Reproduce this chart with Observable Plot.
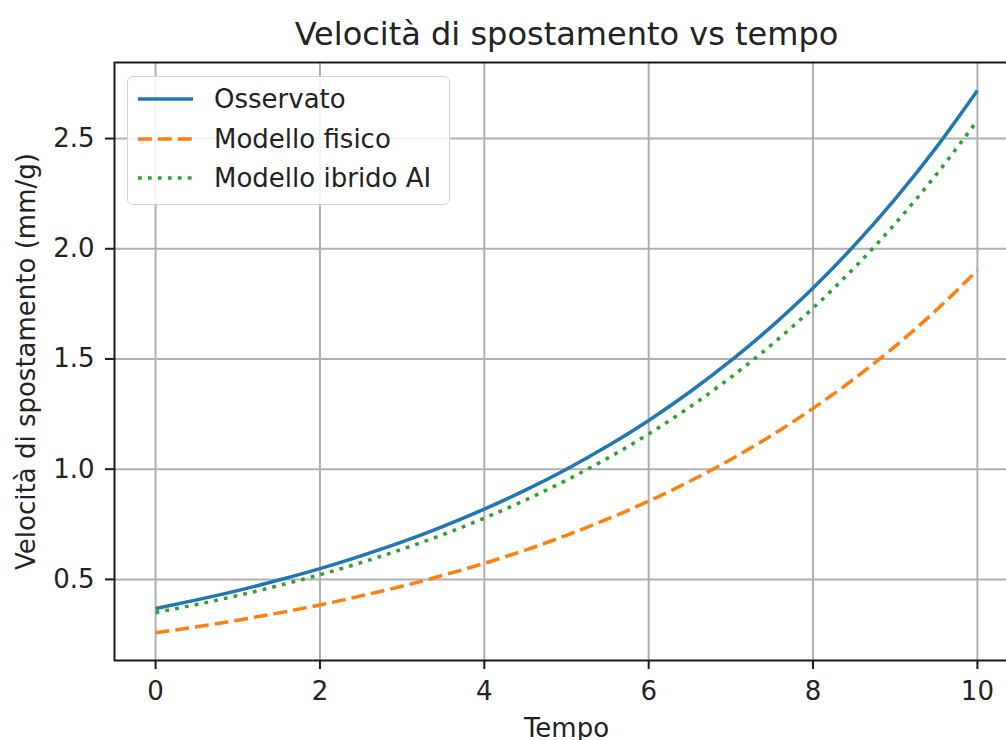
<!DOCTYPE html>
<html>
<head>
<meta charset="utf-8">
<script src="https://cdn.jsdelivr.net/npm/d3@7"></script>
<script src="https://cdn.jsdelivr.net/npm/@observablehq/plot@0.6"></script>
<style>
  html, body { margin: 0; padding: 0; background: white; }
  #wrap { position: relative; width: 1006px; height: 740px; overflow: hidden; font-family: "DejaVu Sans", sans-serif; }
  #legend { position: absolute; left: 127px; top: 76px; width: 321px; height: 127px;
    border: 1.6px solid #d4d4d4; border-radius: 6px; background: rgba(255,255,255,0.85); }
  .row { position: absolute; left: 0; height: 34px; width: 320px; }
  .row span { position: absolute; left: 86px; top: 0; line-height: 34px; font-size: 26px; color: #222; white-space: nowrap; }
  .row svg { position: absolute; left: 9px; top: 0; }
</style>
</head>
<body>
<div id="wrap"></div>
<script>
const title = "Velocità di spostamento vs tempo";
const xLabel = "Tempo";
const yLabel = "Velocità di spostamento (mm/g)";
const seriesNames = ["Osservato", "Modello fisico", "Modello ibrido AI"];
const seriesColors = ["#1f77b4", "#ff7f0e", "#2ca02c"];
const seriesDash = [null, "13.9,6", "3.75,6.2"];
const xTicks = [0, 2, 4, 6, 8, 10];
const yTicks = [0.5, 1.0, 1.5, 2.0, 2.5];

const tempo = [0, 0.5, 1, 1.5, 2, 2.5, 3, 3.5, 4, 4.5, 5, 5.5, 6, 6.5, 7, 7.5, 8, 8.5, 9, 9.5, 10];
const osservato = [0.368, 0.407, 0.449, 0.497, 0.549, 0.607, 0.670, 0.741, 0.819, 0.905, 1.000, 1.105, 1.221, 1.350, 1.492, 1.649, 1.822, 2.014, 2.226, 2.460, 2.718];
const modelloFisico = [0.258, 0.285, 0.315, 0.348, 0.384, 0.425, 0.469, 0.519, 0.573, 0.633, 0.700, 0.774, 0.855, 0.945, 1.044, 1.154, 1.276, 1.410, 1.558, 1.722, 1.903];
const modelloIbrido = [0.350, 0.386, 0.427, 0.472, 0.521, 0.576, 0.637, 0.704, 0.778, 0.860, 0.950, 1.050, 1.160, 1.282, 1.417, 1.566, 1.731, 1.913, 2.114, 2.337, 2.582];

const seriesValues = [osservato, modelloFisico, modelloIbrido];
const data = seriesValues.flatMap((vals, i) => vals.map((v, j) => ({t: tempo[j], v, s: seriesNames[i]})));

const lineMarks = seriesNames.map((name, i) =>
  Plot.line(data.filter(d => d.s === name), {
    x: "t", y: "v", stroke: seriesColors[i], strokeWidth: 3.5,
    strokeDasharray: seriesDash[i] ?? undefined, strokeLinecap: "butt",
    curve: "monotone-x"
  })
);

const chart = Plot.plot({
  width: 1006,
  height: 740,
  marginLeft: 114,
  marginRight: -12,
  marginTop: 62,
  marginBottom: 80,
  style: { fontFamily: "DejaVu Sans, sans-serif", fontSize: "26px", color: "#222", background: "white", overflow: "hidden" },
  x: { domain: [-0.5, 10.5], ticks: xTicks, label: null },
  y: { domain: [0.132, 2.845], ticks: yTicks, tickFormat: d3.format(".1f"), label: null },
  marks: [
    Plot.gridX(xTicks, { stroke: "#b0b0b0", strokeOpacity: 1, strokeWidth: 2 }),
    Plot.gridY(yTicks, { stroke: "#b0b0b0", strokeOpacity: 1, strokeWidth: 2 }),
    ...lineMarks,
    Plot.frame({ stroke: "#1a1a1a", strokeWidth: 2 }),
    Plot.axisX(xTicks, { tickSize: 9, tickPadding: 12, strokeWidth: 2, stroke: "#1a1a1a", fill: "#222", fontSize: 26, label: null }),
    Plot.axisY(yTicks, { tickSize: 9, tickPadding: 11, strokeWidth: 2, stroke: "#1a1a1a", fill: "#222", fontSize: 26, tickFormat: d3.format(".1f"), label: null }),
    Plot.text([title], { frameAnchor: "top", lineAnchor: "top", dy: -40, fontSize: 32, fill: "#222" }),
    Plot.text([xLabel], { frameAnchor: "bottom", lineAnchor: "top", dy: 58, fontSize: 26, fill: "#222" }),
    Plot.text([yLabel], { frameAnchor: "left", lineAnchor: "middle", textAnchor: "middle", rotate: -90, dx: -88, fontSize: 26, fill: "#222" })
  ]
});

const wrap = document.getElementById("wrap");
wrap.appendChild(chart);

const legend = document.createElement("div");
legend.id = "legend";
const rowTops = [5, 45, 84];
seriesNames.forEach((name, i) => {
  const row = document.createElement("div");
  row.className = "row";
  row.style.top = rowTops[i] + "px";
  const dash = seriesDash[i] ? `stroke-dasharray="${seriesDash[i]}"` : "";
  row.innerHTML = `<svg width="58" height="34"><line x1="1" x2="56" y1="17" y2="17" stroke="${seriesColors[i]}" stroke-width="3.5" ${dash}/></svg><span>${name}</span>`;
  legend.appendChild(row);
});
wrap.appendChild(legend);
</script>
</body>
</html>
